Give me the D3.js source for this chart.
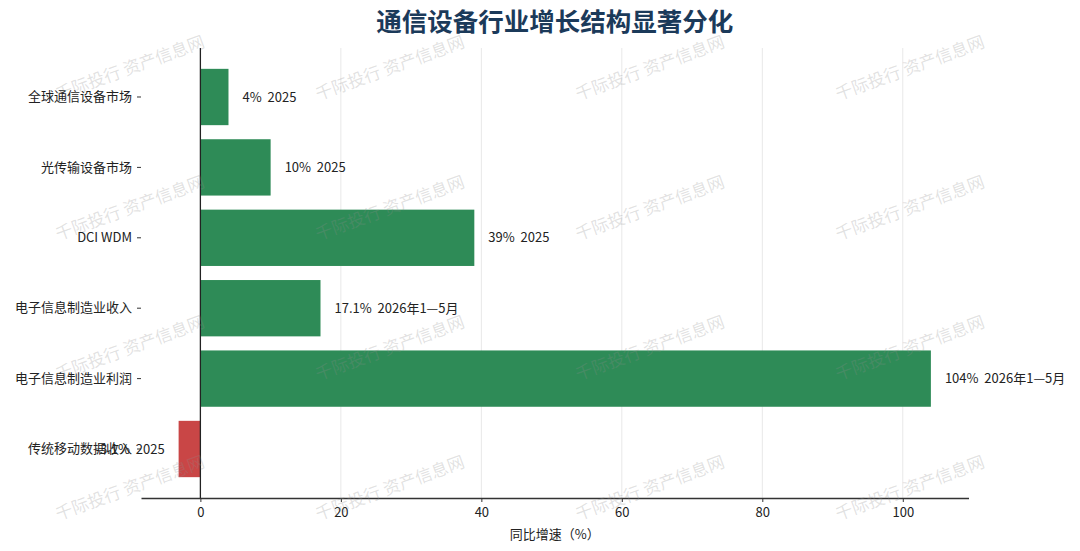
<!DOCTYPE html>
<html><head><meta charset="utf-8">
<script src="https://cdn.jsdelivr.net/npm/d3@7"></script>
<style>
body{margin:0;background:#fff;}
text{font-family:"Noto Sans CJK SC","Noto Sans",sans-serif;}
</style></head>
<body>
<svg id="chart" width="1080" height="551"></svg>
<script>
const categories = ["全球通信设备市场","光传输设备市场","DCI WDM","电子信息制造业收入","电子信息制造业利润","传统移动数据收入"];
const values = [4, 10, 39, 17.1, 104, -3.1];
const periods = ["2025","2025","2025","2026年1—5月","2026年1—5月","2025"];
const xTicks = [0, 20, 40, 60, 80, 100];
const xDomain = [-8.455, 109.355];
const title = "通信设备行业增长结构显著分化";
const xLabel = "同比增速（%）";
const watermark = "千际投行 资产信息网";

(function(){
const svg = d3.select("#chart");
const mLeft = 141, mRight = 968.5, mTop = 48, mBottom = 498;
const fs = 13;
const ff = '"Noto Sans CJK SC","Noto Sans",sans-serif';

const x = d3.scaleLinear().domain(xDomain).range([mLeft, mRight]);
const y = d3.scaleBand().domain(categories).range([mTop, mBottom]).paddingInner(0.2).paddingOuter(0.296);

// grid
svg.append("g").selectAll("line").data(xTicks.filter(d=>d!==0)).join("line")
  .attr("x1", d=>x(d)).attr("x2", d=>x(d)).attr("y1", mTop).attr("y2", mBottom)
  .attr("stroke", "#e8e8e8").attr("stroke-width", 1);

// bars
svg.append("g").selectAll("rect").data(values).join("rect")
  .attr("x", d=>x(Math.min(0,d)))
  .attr("width", d=>Math.abs(x(d)-x(0)))
  .attr("y", (d,i)=>y(categories[i]))
  .attr("height", y.bandwidth())
  .attr("fill", d=> d>=0 ? "#2e8b57" : "#c94646");

// zero line
svg.append("line").attr("x1", x(0)).attr("x2", x(0)).attr("y1", mTop).attr("y2", mBottom)
  .attr("stroke", "#222").attr("stroke-width", 1.3);

// value labels
svg.append("g").selectAll("text").data(values).join("text")
  .attr("x", d=> d>=0 ? x(d)+14 : x(d)-14)
  .attr("y", (d,i)=>y(categories[i])+y.bandwidth()/2)
  .attr("dy", "0.35em")
  .attr("text-anchor", d=> d>=0 ? "start" : "end")
  .attr("font-size", fs).attr("fill", "#222")
  .text((d,i)=> d + "%\u00a0\u00a0" + periods[i]);

// y axis (ticks + labels, no spine)
const yAxis = svg.append("g").attr("transform", `translate(${mLeft},0)`)
  .call(d3.axisLeft(y).tickSize(4).tickPadding(5));
yAxis.select(".domain").remove();
yAxis.selectAll("text").attr("font-size", fs).attr("fill", "#222").style("font-family", ff);
yAxis.selectAll("line").attr("stroke", "#333");

// x axis
const xAxis = svg.append("g").attr("transform", `translate(0,${mBottom})`)
  .call(d3.axisBottom(x).tickValues(xTicks).tickSize(4).tickPadding(6).tickSizeOuter(0));
xAxis.select(".domain").attr("stroke", "#333").attr("stroke-width", 1.3);
xAxis.selectAll("text").attr("font-size", fs).attr("fill", "#222").style("font-family", ff);
xAxis.selectAll("line").attr("stroke", "#333");

svg.append("text").attr("x", (mLeft+mRight)/2).attr("y", 539).attr("text-anchor", "middle")
  .attr("font-size", fs).attr("fill", "#222").text(xLabel);

// title
svg.append("text").attr("x", (mLeft+mRight)/2).attr("y", 31).attr("text-anchor", "middle")
  .attr("font-size", 25.5).attr("font-weight", "bold").attr("fill", "#1b3a5a").text(title);

// watermarks
const wmX = [130, 390, 650, 910], wmY = [68, 208, 348, 488];
const wm = svg.append("g").attr("pointer-events", "none");
wmY.forEach(yy => wmX.forEach(xx => {
  wm.append("text").attr("transform", `translate(${xx},${yy}) rotate(-20)`)
    .attr("text-anchor", "middle").attr("dy", "0.35em")
    .attr("font-size", 17).attr("fill", "rgba(140,140,140,0.26)").text(watermark);
}));
})();
</script>
</body></html>
